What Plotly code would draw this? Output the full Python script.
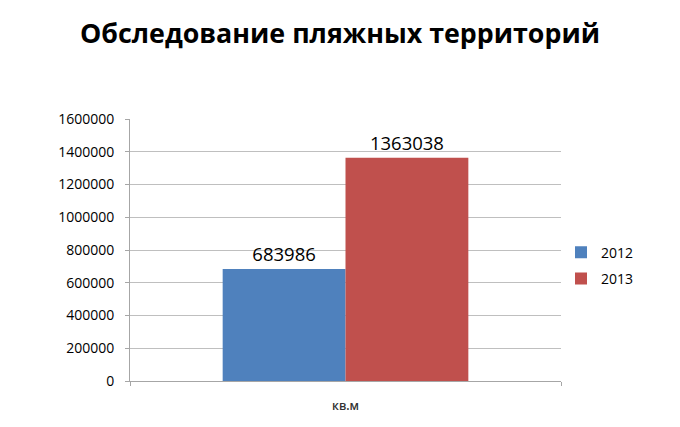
import plotly.graph_objects as go

categories = ["кв.м"]
years = ["2012", "2013"]
values_2012 = [683986]
values_2013 = [1363038]
colors = ["#4F81BD", "#C0504D"]
y_ticks = [0, 200000, 400000, 600000, 800000, 1000000, 1200000, 1400000, 1600000]

font_family = "Open Sans, Liberation Sans, sans-serif"

fig = go.Figure()
for name, vals, col in zip(years, [values_2012, values_2013], colors):
    fig.add_trace(go.Bar(
        x=categories, y=vals, name=name, legendgroup=name,
        marker=dict(color=col, line=dict(width=0)),
        text=[str(v) for v in vals], textposition="outside",
        textfont=dict(size=18.5, color="#000000", family=font_family),
        cliponaxis=False,
    ))

fig.update_layout(
    width=680, height=427,
    margin=dict(l=130, r=119, t=119, b=46, autoexpand=False),
    paper_bgcolor="white", plot_bgcolor="white",
    barmode="group", bargap=0.43, bargroupgap=0,
    title=dict(text="<b>Обследование пляжных территорий</b>",
               x=0.5, xanchor="center", y=0.922, yanchor="middle",
               font=dict(size=26.8, color="#000000", family=font_family)),
    legend=dict(x=1.0, y=0.44, xanchor="left", yanchor="middle",
                font=dict(size=14, color="#000000", family=font_family),
                tracegroupgap=5, bgcolor="rgba(0,0,0,0)"),
    font=dict(family=font_family, color="#000000"),
)
fig.update_xaxes(showline=True, linecolor="#A6A6A6", linewidth=1,
                 ticks="outside", tickson="boundaries", ticklen=4,
                 tickcolor="#A6A6A6", ticklabelstandoff=14, automargin=False,
                 tickfont=dict(size=12, color="#333333",
                               family="Open Sans SemiBold, Open Sans, sans-serif"),
                 showgrid=False)
fig.update_yaxes(range=[0, 1600000], tickvals=y_ticks,
                 ticktext=[str(v) for v in y_ticks],
                 showgrid=True, gridcolor="#BFBFBF", gridwidth=1,
                 showline=True, linecolor="#A6A6A6", linewidth=1,
                 ticks="outside", ticklen=4, tickcolor="#A6A6A6",
                 ticklabelstandoff=8, automargin=False,
                 tickfont=dict(size=14, color="#000000"), zeroline=False)

fig.write_html("out.html")
